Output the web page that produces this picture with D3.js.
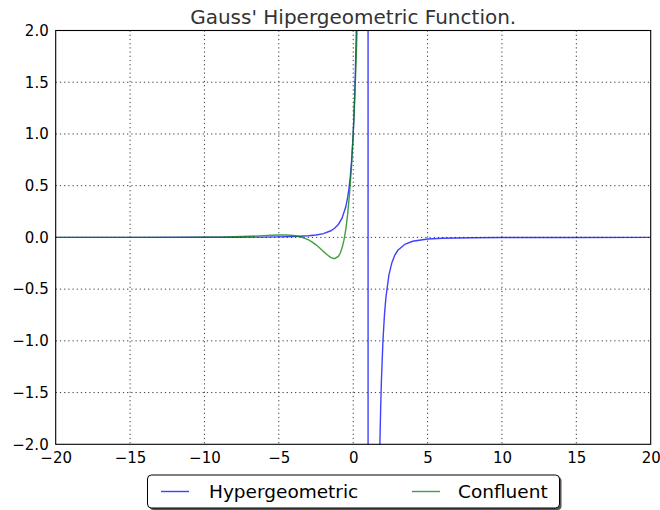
<!DOCTYPE html>
<html><head><meta charset="utf-8">
<script src="https://cdn.jsdelivr.net/npm/d3@7"></script>
<style>body{margin:0;background:#fff;} text{font-family:"DejaVu Sans",sans-serif;}</style>
</head><body><svg id="c" width="660" height="510"></svg>
<script>
const title = "Gauss' Hipergeometric Function.";
const seriesNames = ["Hypergeometric", "Confluent"];
const xTicks = [-20, -15, -10, -5, 0, 5, 10, 15, 20];
const yTicks = [-2.0, -1.5, -1.0, -0.5, 0.0, 0.5, 1.0, 1.5, 2.0];

// Hypergeometric series
const hypX = [-20, -15, -10, -8, -6, -5, -4, -3, -2.5, -2, -1.5, -1.25, -1, -0.75, -0.5, -0.4, -0.3, -0.2, -0.1, 0, 0.05, 0.1, 0.15, 0.2, 0.25, 0.3, 0.5, 0.8, 0.96,
  1.04, 1.2, 1.5, 1.7, 1.75, 1.8, 1.85, 1.9, 2.0, 2.1, 2.2, 2.4, 2.6, 2.8, 3.0, 3.5, 4, 5, 6, 8, 10, 15, 20];
const hypY = [0.0001, 0.0002, 0.0008, 0.0014, 0.0029, 0.0046, 0.008, 0.0156, 0.0233, 0.037, 0.064, 0.0878, 0.125, 0.1866, 0.296, 0.364, 0.455, 0.579, 0.751, 1.0, 1.166, 1.372, 1.628, 1.953, 2.37, 2.915, 8, 125, 15625,
  -15625, -125, -8, -2.915, -2.37, -1.953, -1.628, -1.372, -1.0, -0.751, -0.579, -0.364, -0.244, -0.171, -0.125, -0.064, -0.037, -0.0156, -0.008, -0.0029, -0.0014, -0.0004, -0.0001];

// Confluent series
const conX = [-20, -15, -12, -10, -9, -8, -7, -6, -5.5, -5, -4.5, -4, -3.5, -3.25, -3, -2.75, -2.5, -2.25, -2, -1.75, -1.5, -1.25, -1, -0.875, -0.75, -0.625, -0.5, -0.375, -0.25, -0.125, 0, 0.05, 0.1, 0.15, 0.2, 0.25, 0.3, 0.4, 0.6, 1.0];
const conY = [0.0, 0.0, 0.0003, 0.0014, 0.0029, 0.0057, 0.0105, 0.0174, 0.0209, 0.0236, 0.0236, 0.0183, 0.0038, -0.0085, -0.0249, -0.0459, -0.0718, -0.1021, -0.1353, -0.1684, -0.1952, -0.2059, -0.1839, -0.1531, -0.1033, -0.0293, 0.0758, 0.2201, 0.4137, 0.6688, 1.0, 1.1577, 1.3317, 1.5234, 1.7344, 1.9662, 2.2206, 2.8046, 4.337, 9.51];

const colors = ["#0000ff", "#008000"];

const svg = d3.select("#c");
const L = 55.7, R = 650.7, T = 30.5, B = 444.3;
const x = d3.scaleLinear().domain([-20, 20]).range([L, R]);
const y = d3.scaleLinear().domain([-2, 2]).range([B, T]);

svg.append("defs").append("clipPath").attr("id", "clip")
  .append("rect").attr("x", L).attr("y", T).attr("width", R - L).attr("height", B - T);

// grid
const grid = svg.append("g");
grid.selectAll(".gx").data(xTicks.slice(1, -1)).join("line")
  .attr("x1", d => x(d)).attr("x2", d => x(d)).attr("y1", T).attr("y2", B)
  .attr("stroke", "#222").attr("stroke-width", 0.9).attr("stroke-dasharray", "1.2,3");
grid.selectAll(".gy").data(yTicks.slice(1, -1)).join("line")
  .attr("y1", d => y(d)).attr("y2", d => y(d)).attr("x1", L).attr("x2", R)
  .attr("stroke", "#222").attr("stroke-width", 0.9).attr("stroke-dasharray", "1.2,3");

// lines
const line = d3.line().x(d => x(d[0])).y(d => y(d[1]));
const plot = svg.append("g").attr("clip-path", "url(#clip)");
plot.append("path").datum(hypX.map((v, i) => [v, hypY[i]]))
  .attr("d", line).attr("fill", "none").attr("stroke", colors[0]).attr("stroke-width", 1.4).attr("stroke-opacity", 0.75);
plot.append("path").datum(conX.map((v, i) => [v, conY[i]]))
  .attr("d", line).attr("fill", "none").attr("stroke", colors[1]).attr("stroke-width", 1.4).attr("stroke-opacity", 0.75);

// axes
const fmtY = d => d3.format(".1f")(d).replace("-", "\u2212");
const fmtX = d => String(d).replace("-", "\u2212");
const xa = svg.append("g").attr("transform", `translate(0,${B})`)
  .call(d3.axisBottom(x).tickValues(xTicks).tickSize(0).tickPadding(8).tickFormat(fmtX));
const ya = svg.append("g").attr("transform", `translate(${L},0)`)
  .call(d3.axisLeft(y).tickValues(yTicks).tickSize(0).tickPadding(7).tickFormat(fmtY));
[xa, ya].forEach(a => {
  a.select(".domain").remove();
  a.selectAll("text").attr("font-size", 15).attr("fill", "#000").attr("font-family", "DejaVu Sans");
});

svg.append("rect").attr("x", L).attr("y", T).attr("width", R - L).attr("height", B - T)
  .attr("fill", "none").attr("stroke", "#000").attr("stroke-width", 1.1);

// title
svg.append("text").attr("x", (L + R) / 2).attr("y", 24).attr("text-anchor", "middle")
  .attr("font-size", 20).attr("fill", "#333").text(title);

// legend
const lg = svg.append("g");
lg.append("rect").attr("x", 149.5).attr("y", 477).attr("width", 412).attr("height", 33).attr("rx", 4)
  .attr("fill", "#555");
lg.append("rect").attr("x", 147.5).attr("y", 475).attr("width", 412).attr("height", 33).attr("rx", 4)
  .attr("fill", "#fff").attr("stroke", "#000").attr("stroke-width", 1);
const legX = [161, 412];
const textX = [209, 458];
seriesNames.forEach((n, i) => {
  lg.append("line").attr("x1", legX[i]).attr("x2", legX[i] + 28).attr("y1", 491.5).attr("y2", 491.5)
    .attr("stroke", colors[i]).attr("stroke-width", 1.4).attr("stroke-opacity", 0.75);
  lg.append("text").attr("x", textX[i]).attr("y", 498).attr("font-size", 18.5).attr("fill", "#000").text(n);
});
</script></body></html>
